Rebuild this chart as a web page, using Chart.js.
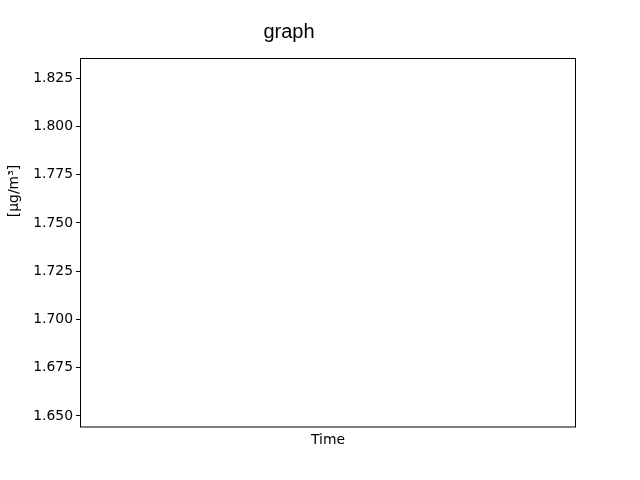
<!DOCTYPE html>
<html>
<head>
<meta charset="utf-8">
<script src="https://cdn.jsdelivr.net/npm/chart.js@4/dist/chart.umd.min.js"></script>
<style>
html,body{margin:0;padding:0;background:#fff;}
#wrap{width:640px;height:480px;}
</style>
</head>
<body>
<div id="wrap"><canvas id="c" width="640" height="480"></canvas></div>
<script>
const titleText = "graph";
const xLabel = "Time";
const yLabel = "[μg/m³]";
const timeCategories = [];
const seriesValues = [];
const yTickValues = [1.650, 1.675, 1.700, 1.725, 1.750, 1.775, 1.800, 1.825];
const yMin = 1.6443;
const yMax = 1.8354;

const framePlugin = {
  id: 'frame',
  afterDraw(chart) {
    const ctx = chart.ctx, a = chart.chartArea;
    ctx.save();
    ctx.strokeStyle = '#000';
    ctx.lineWidth = 1;
    ctx.strokeRect(Math.round(a.left) + 0.5, Math.round(a.top) + 0.5,
      Math.round(a.right - a.left) - 1, Math.round(a.bottom - a.top) - 0.5);
    ctx.fillStyle = '#000';
    ctx.font = '20px "Liberation Sans", Arial, sans-serif';
    ctx.textAlign = 'center';
    ctx.textBaseline = 'middle';
    ctx.fillText(titleText, 289, 32);
    ctx.font = '13.9px "DejaVu Sans", sans-serif';
    ctx.translate(14, 191);
    ctx.rotate(-Math.PI / 2);
    ctx.fillText(yLabel, 0, 0);
    ctx.restore();
  }
};

new Chart(document.getElementById('c'), {
  type: 'line',
  data: {
    labels: timeCategories,
    datasets: [{ data: seriesValues, borderColor: '#1f77b4' }]
  },
  options: {
    responsive: false,
    animation: false,
    devicePixelRatio: 1,
    layout: { padding: { top: 58, right: 64, left: 0, bottom: 0 } },
    plugins: { legend: { display: false }, tooltip: { enabled: false }, title: { display: false } },
    scales: {
      x: {
        type: 'linear',
        min: 0, max: 1,
        ticks: { display: false },
        grid: { display: false },
        border: { display: false },
        title: { display: true, text: xLabel, color: '#000',
          font: { family: 'DejaVu Sans', size: 13.9 }, padding: { top: 0, bottom: 31 } },
        afterFit(s) { s.height = 53; }
      },
      y: {
        min: yMin, max: yMax,
        afterBuildTicks(s) { s.ticks = yTickValues.map(v => ({ value: v })); },
        ticks: {
          color: '#000',
          font: { family: 'DejaVu Sans', size: 13.9 },
          padding: 3,
          callback: v => Number(v).toFixed(3)
        },
        grid: { drawOnChartArea: false, drawTicks: true, tickLength: 4, color: '#000' },
        border: { display: false },
        afterFit(s) { s.width = 80; }
      }
    }
  },
  plugins: [framePlugin]
});
</script>
</body>
</html>
